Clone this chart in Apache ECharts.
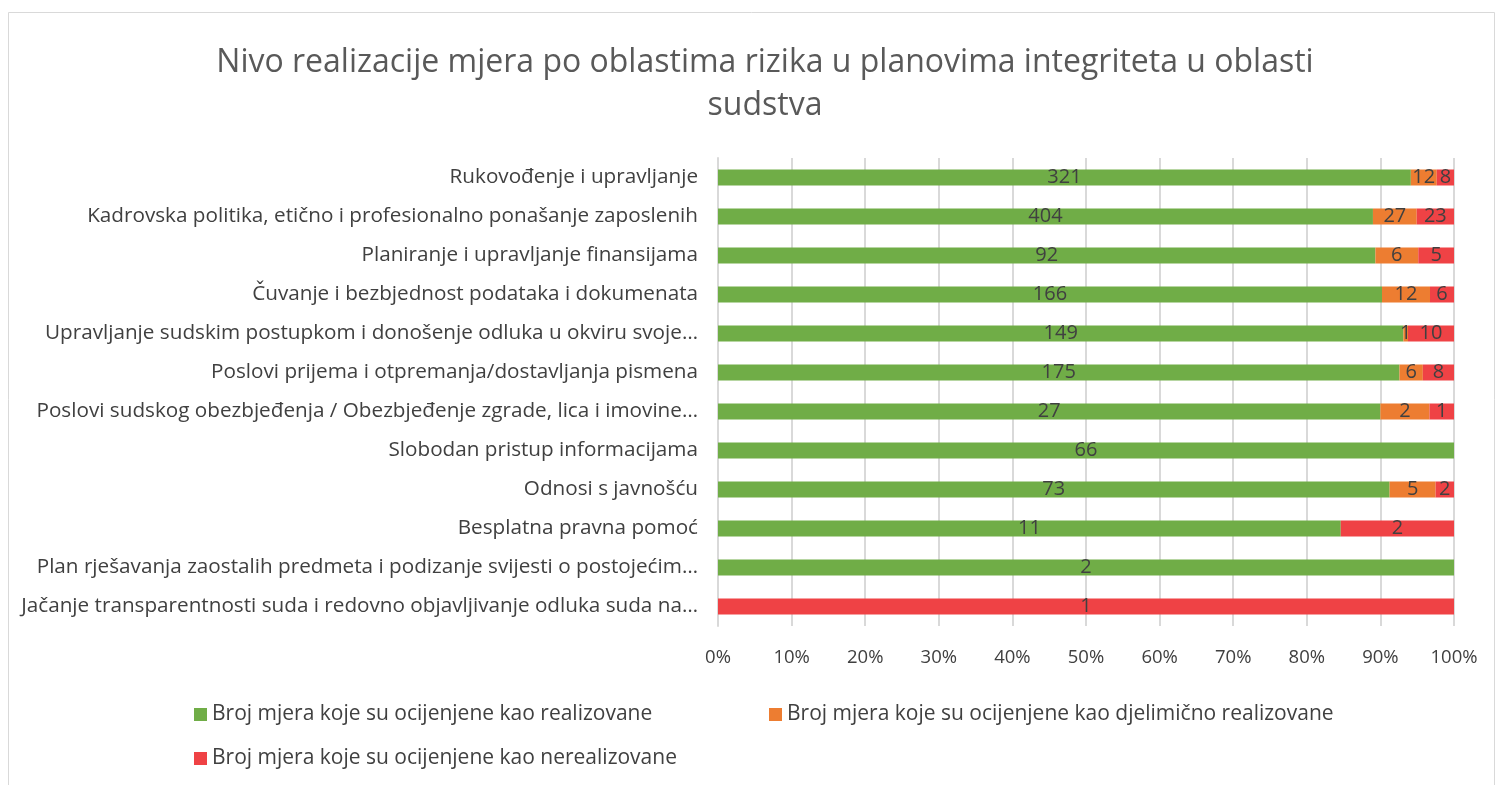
<!DOCTYPE html>
<html>
<head>
<meta charset="utf-8">
<script src="https://cdn.jsdelivr.net/npm/echarts@6/dist/echarts.min.js"></script>
<style>
  html, body { margin: 0; padding: 0; background: #fff; }
  #main { width: 1503px; height: 785px; }
</style>
</head>
<body>
<div id="main"></div>
<script>
  // kategorije (oblasti rizika)
  var categories = [
    'Rukovođenje i upravljanje',
    'Kadrovska politika, etično i profesionalno ponašanje zaposlenih',
    'Planiranje i upravljanje finansijama',
    'Čuvanje i bezbjednost podataka i dokumenata',
    'Upravljanje sudskim postupkom i donošenje odluka u okviru svoje…',
    'Poslovi prijema i otpremanja/dostavljanja pismena',
    'Poslovi sudskog obezbjeđenja / Obezbjeđenje zgrade, lica i imovine…',
    'Slobodan pristup informacijama',
    'Odnosi s javnošću',
    'Besplatna pravna pomoć',
    'Plan rješavanja zaostalih predmeta i podizanje svijesti o postojećim…',
    'Jačanje transparentnosti suda i redovno objavljivanje odluka suda na…'
  ];
  var realizovane = [321, 404, 92, 166, 149, 175, 27, 66, 73, 11, 2, 0];
  var djelimicno  = [12, 27, 6, 12, 1, 6, 2, 0, 5, 0, 0, 0];
  var nerealizovane = [8, 23, 5, 6, 10, 8, 1, 0, 2, 2, 0, 1];
  var seriesNames = [
    'Broj mjera koje su ocijenjene kao realizovane',
    'Broj mjera koje su ocijenjene kao djelimično realizovane',
    'Broj mjera koje su ocijenjene kao nerealizovane'
  ];
  var colors = ['#70ad47', '#ed7d31', '#ef4245'];

  var FONT = 'Open Sans';
  var TXT = '#404040';

  // 100% stacked -> udio svake vrijednosti u redu
  function share(arr, i) {
    var tot = realizovane[i] + djelimicno[i] + nerealizovane[i];
    return { value: tot ? arr[i] / tot : 0, raw: arr[i] };
  }
  function build(arr) {
    return arr.map(function (v, i) { return share(arr, i); });
  }
  var lists = [realizovane, djelimicno, nerealizovane];

  var myChart = echarts.init(document.getElementById('main'));
  var option = {
    backgroundColor: '#fff',
    color: colors,
    textStyle: { fontFamily: FONT },
    graphic: [{
      type: 'rect',
      shape: { x: 8.5, y: 12.5, width: 1486, height: 800 },
      style: { fill: 'none', stroke: '#d9d9d9', lineWidth: 1 },
      silent: true
    }],
    title: {
      text: 'Nivo realizacije mjera po oblastima rizika u planovima integriteta u oblasti\nsudstva',
      left: 760,
      textAlign: 'center',
      top: 36,
      textStyle: { fontFamily: FONT, fontSize: 32, fontWeight: 'normal', color: '#595959', lineHeight: 43 }
    },
    legend: [0, 1, 2].map(function (k) {
      var pos = [[194, 704], [769, 704], [194, 748]][k];
      return {
        data: [seriesNames[k]],
        left: pos[0], top: pos[1],
        icon: 'rect', itemWidth: 13, itemHeight: 13, itemGap: 6, padding: 0,
        textStyle: { fontFamily: FONT, fontSize: 21, color: TXT }
      };
    }),
    grid: { left: 718, right: 49, top: 158, bottom: 159, containLabel: false },
    xAxis: {
      type: 'value',
      min: 0, max: 1, interval: 0.1,
      axisLine: { show: false },
      axisTick: { show: false },
      splitLine: { lineStyle: { color: '#d9d9d9', width: 2 } },
      axisLabel: {
        margin: 22,
        fontFamily: FONT, fontSize: 18.5, color: TXT,
        formatter: function (v) { return Math.round(v * 100) + '%'; }
      }
    },
    yAxis: {
      type: 'category',
      inverse: true,
      data: categories,
      axisLine: { show: true, lineStyle: { color: '#d9d9d9', width: 2 } },
      axisTick: { show: false },
      axisLabel: { margin: 20, fontFamily: FONT, fontSize: 20.7, color: TXT }
    },
    series: lists.map(function (arr, k) {
      return {
        name: seriesNames[k],
        type: 'bar',
        stack: 'ukupno',
        barWidth: 16,
        data: build(arr),
        itemStyle: { color: colors[k] },
        label: {
          show: true,
          position: 'inside',
          fontFamily: FONT, fontSize: 20, color: TXT,
          formatter: function (p) { return p.data.raw ? String(p.data.raw) : ''; }
        }
      };
    })
  };
  myChart.setOption(option);
</script>
</body>
</html>
